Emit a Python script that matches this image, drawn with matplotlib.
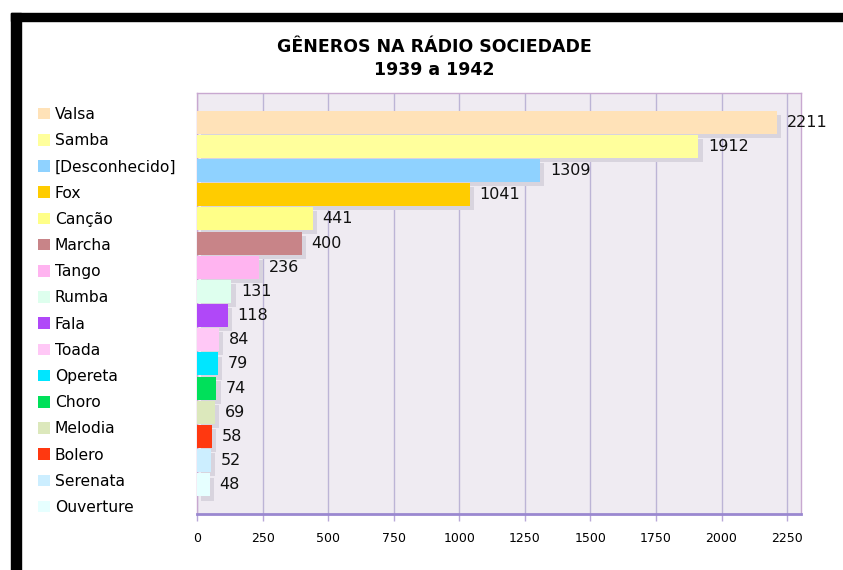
import numpy as np
import matplotlib
matplotlib.use('Agg')
import matplotlib.pyplot as plt
import matplotlib.patheffects as pe
from matplotlib.patches import Rectangle

# data
generos = ['Valsa', 'Samba', '[Desconhecido]', 'Fox', 'Canção', 'Marcha', 'Tango',
           'Rumba', 'Fala', 'Toada', 'Opereta', 'Choro', 'Melodia', 'Bolero',
           'Serenata', 'Ouverture']
contagens = [2211, 1912, 1309, 1041, 441, 400, 236, 131, 118, 84, 79, 74, 69, 58, 52, 48]
cores = ['#FFE2B8', '#FFFF9C', '#8FD2FF', '#FFCC00', '#FFFF88', '#C88488', '#FFB4F0',
         '#DEFFEE', '#B048F8', '#FFC8F6', '#00E6FF', '#00E05A', '#DCE8BC', '#FF3810',
         '#CCEEFF', '#E6FFFF']
xticks = [0, 250, 500, 750, 1000, 1250, 1500, 1750, 2000, 2250]

W, H = 843, 570
fig = plt.figure(figsize=(W / 100, H / 100), dpi=100)
fig.patch.set_facecolor('white')

ax = fig.add_axes([197 / W, 1 - 514 / H, (801 - 197) / W, (514 - 93) / H])
ax.set_facecolor('#EFEBF2')

y = np.arange(len(generos))
bars = ax.barh(y, contagens, height=0.95, color=cores, zorder=3)
for b in bars:
    b.set_path_effects([pe.SimplePatchShadow(offset=(3, -3), shadow_rgbFace='#D8D4DE', alpha=1),
                        pe.Normal()])

ax.bar_label(bars, labels=[str(v) for v in contagens], padding=7, fontsize=11.5,
             color='#111111', zorder=4)

ax.set_xlim(0, 2303)
ax.set_ylim(len(generos) - 1 + 1.2, -1.2)
ax.set_xticks(xticks)
ax.set_yticks([])
ax.tick_params(axis='x', length=5, width=1, color='#B8A8D8', pad=8, labelsize=9)
ax.xaxis.grid(True, color='#BCB4D6', linewidth=1, zorder=1)
ax.set_axisbelow(True)

for s in ['left', 'top', 'right']:
    ax.spines[s].set_color('#C8A8D0')
    ax.spines[s].set_linewidth(1)
ax.spines['bottom'].set_color('#9A88D0')
ax.spines['bottom'].set_linewidth(2)

leg = ax.legend(bars, generos, loc='upper left', bbox_to_anchor=(38 / W, 1 - 107 / H),
                bbox_transform=fig.transFigure, frameon=False, fontsize=11.2,
                handlelength=0.77, handleheight=0.77, handletextpad=0.32,
                labelspacing=0.72, borderaxespad=0, borderpad=0)
for h in leg.legend_handles:
    h.set_path_effects([])

fig.text(434 / W, 1 - 47 / H, 'GÊNEROS NA RÁDIO SOCIEDADE', ha='center', va='center',
         fontsize=12.5, fontweight='bold')
fig.text(434 / W, 1 - 70 / H, '1939 a 1942', ha='center', va='center',
         fontsize=12.5, fontweight='bold')

# black frame at top and left
fig.add_artist(Rectangle((11 / W, 1 - 21 / H), 1, 8 / H, transform=fig.transFigure,
                         color='black', zorder=10))
fig.add_artist(Rectangle((11 / W, 0), 10 / W, 1 - 13 / H, transform=fig.transFigure,
                         color='black', zorder=10))

fig.savefig('out.png', dpi=100)
